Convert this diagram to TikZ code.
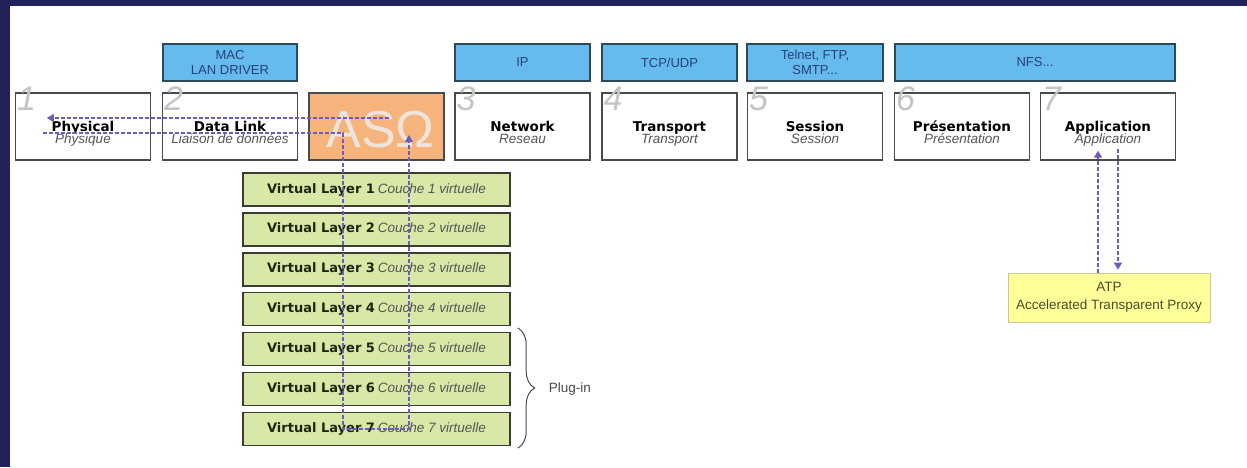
\documentclass[tikz,border=0pt]{standalone}
\usepackage{fontspec}
\setmainfont{Liberation Sans}
\newfontfamily\vfont{DejaVu Sans}
\usetikzlibrary{arrows.meta,decorations.pathreplacing,calc}
\definecolor{navy}{HTML}{22225A}
\definecolor{boxline}{HTML}{4A4A4A}
\definecolor{protofill}{HTML}{66BBEE}
\definecolor{protoline}{HTML}{2E4A5A}
\definecolor{prototext}{HTML}{27407A}
\definecolor{asqfill}{HTML}{F6B47C}
\definecolor{asqtext}{HTML}{EFE4DA}
\definecolor{vlfill}{HTML}{D8E8A6}
\definecolor{vlline}{HTML}{3C3C30}
\definecolor{vltext}{HTML}{1E2612}
\definecolor{subgray}{HTML}{555555}
\definecolor{flowc}{HTML}{6A5CC0}
\definecolor{atpfill}{HTML}{FFFF99}
\definecolor{atpline}{HTML}{C8C890}
\definecolor{atptext}{HTML}{4A4A2E}
\definecolor{numc}{HTML}{C4C4C4}
\begin{document}
\begin{tikzpicture}[x=1pt,y=-1pt,
  osi/.style={draw=boxline,line width=1.4pt,fill=white,minimum width=135pt,minimum height=67pt,inner sep=0pt},
  proto/.style={draw=protoline,line width=1.8pt,fill=protofill,minimum height=37pt,inner sep=0pt,
    text=prototext,align=center,font=\fontsize{13}{15.5}\selectfont},
  titletext/.style={anchor=base,inner sep=0pt,text=black,font=\vfont\bfseries\fontsize{13.5}{14}\selectfont},
  subtext/.style={anchor=base,inner sep=0pt,text=subgray,font=\itshape\fontsize{13.5}{14}\selectfont},
  numtext/.style={anchor=base west,inner sep=0pt,text=numc,font=\itshape\fontsize{34}{34}\selectfont},
  vlayer/.style={draw=vlline,line width=1.4pt,fill=vlfill,minimum width=267pt,minimum height=33pt,inner sep=0pt},
  flow/.style={draw=flowc,line width=1.3pt,dash pattern=on 4pt off 2pt},
  tip/.style={-{Triangle[width=8pt,length=7pt]}},
  atpbox/.style={draw=atpline,line width=0.8pt,fill=atpfill,minimum width=202pt,minimum height=49pt,
    inner sep=0pt,align=center,text=atptext,font=\fontsize{13.5}{18}\selectfont}]
\useasboundingbox (0,0) rectangle (1247,467);
\fill[white] (0,0) rectangle (1247,467);
\fill[navy] (0,0) rectangle (1247,6);
\fill[navy] (0,0) rectangle (10,467);

% protocol boxes
\node[proto,minimum width=134pt] (mac) at (230,62.5) {MAC\\LAN DRIVER};
\node[proto,minimum width=135pt] (ip) at (522.5,62.5) {IP};
\node[proto,minimum width=135pt] (tcp) at (669.5,62.5) {TCP/UDP};
\node[proto,minimum width=136pt] (tel) at (815,62.5) {Telnet, FTP,\\SMTP...};
\node[proto,minimum width=280pt] (nfs) at (1035,62.5) {NFS...};

% OSI layers
\foreach \n/\x/\d/\t/\s in {phys/83/1/Physical/Physique,
    dl/230/2/Data Link/Liaison de données,
    net/522.5/3/Network/Reseau,
    tr/669.5/4/Transport/Transport,
    ses/815/5/Session/Session,
    pres/962/6/Présentation/Présentation,
    app/1108/7/Application/Application}{
  \node[osi] (\n) at (\x,126.5) {};
  \node[titletext] (\n T) at ($(\n.center)+(0,4.5)$) {\t};
  \node[subtext] (\n S) at ($(\n.center)+(0,16.5)$) {\s};
  \node[numtext] (\n N) at ($(\n.north west)+(2,18)$) {\d};
}

% ASQ box
\node[osi,fill=asqfill] (asq) at (376.5,126.5) {};
\node[anchor=base,inner sep=0pt,text=asqtext,font=\fontsize{52}{52}\selectfont] (asqT) at ($(asq.center)+(4,20.5)$) {ASΩ};

% virtual layers
\foreach \i in {1,...,7}{
  \node[vlayer] (vl\i) at (376.5,{189.5+39.9*(\i-1)})
    {{\vfont\bfseries\fontsize{13}{14}\selectfont\color{vltext}Virtual Layer \i}\ {\itshape\fontsize{13.5}{14}\selectfont\color{subgray}Couche \i\ virtuelle}};
}

% brace and plug-in label
\draw[boxline,line width=1pt,decorate,decoration={brace,amplitude=17pt,aspect=0.5}]
  ($(vl5.north east)+(7,-4)$) coordinate (brT) -- ($(vl7.south east)+(7,2)$) coordinate (brB);
\node[anchor=west,inner sep=0pt,text=boxline,font=\fontsize{13.5}{14}\selectfont] (plug) at ($(vl6.east)+(38,0)$) {Plug-in};

% ATP box
\node[atpbox] (atp) at (1109,297.5) {ATP\\Accelerated Transparent Proxy};

% flows ASQ <-> Physical
\coordinate (asqOut) at ($(asq.west)+(81,-8.5)$);
\coordinate (physIn) at ($(phys.west)+(32,-8.5)$);
\draw[flow,tip] (asqOut) -- (physIn);
\coordinate (physOut) at ($(phys.west)+(28,6.5)$);
\coordinate (downX) at ($(vl7.center)+(-33.5,0)$);
\coordinate (upX) at ($(vl7.center)+(32.5,0)$);
\coordinate (asqIn) at ($(asq.west)+(100,8.5)$);
\draw[flow,tip] (physOut) -| (downX) -- (upX) -- (upX |- asqIn);

% flows Application <-> ATP
\coordinate (upS) at ($(atp.north)+(-11,0)$);
\coordinate (dnS) at ($(atp.north)+(9,0)$);
\draw[flow,tip] (upS) -- ($(upS |- app.south)+(0,-10)$);
\draw[flow,tip] ($(dnS |- app.south)+(0,-12)$) -- ($(dnS)+(0,-3)$);
\end{tikzpicture}
\end{document}
